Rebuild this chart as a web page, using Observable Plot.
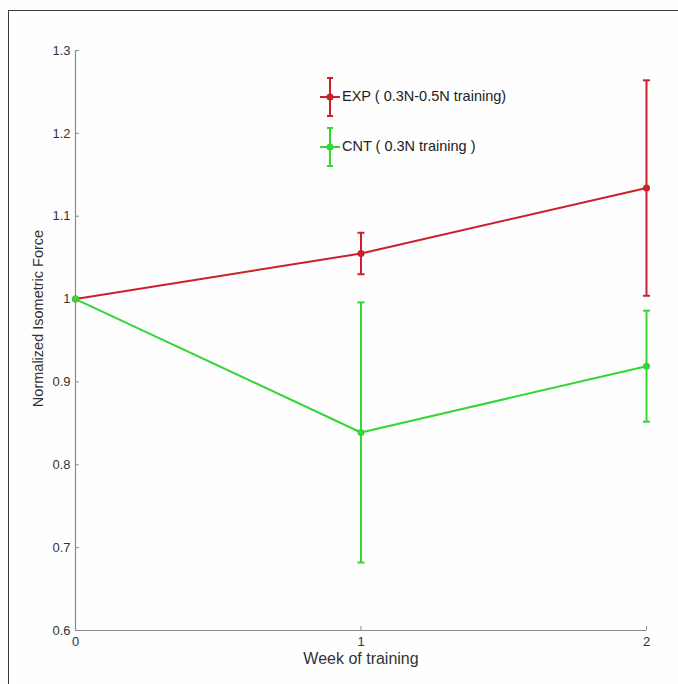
<!DOCTYPE html>
<html>
<head>
<meta charset="utf-8">
<script src="https://cdn.jsdelivr.net/npm/d3@7"></script>
<script src="https://cdn.jsdelivr.net/npm/@observablehq/plot@0.6"></script>
<style>
  html, body { margin: 0; padding: 0; background: #fefefe; }
  #wrap { position: relative; width: 678px; height: 684px; overflow: hidden; background: #fefefe; font-family: "Liberation Sans", Arial, Helvetica, sans-serif; }
  #frame { position: absolute; left: 8px; top: 10px; width: 700px; height: 700px; border: 1px solid #3a3a3a; box-sizing: border-box; pointer-events: none; }
  #legend { position: absolute; left: 318px; top: 72px; font-size: 14.5px; color: #222; }
  .item { position: relative; height: 50px; display: flex; align-items: center; }
  .item svg { flex: none; }
  .item span { margin-left: 0px; margin-top: -2px; }
</style>
</head>
<body>
<div id="wrap">
  <div id="chart"></div>
  <div id="legend"></div>
  <div id="frame"></div>
</div>
<script>
// Data
const weeks = [0, 1, 2];
const expMean = [1.0, 1.055, 1.134];
const expErr = [0, 0.025, 0.13];
const cntMean = [1.0, 0.839, 0.919];
const cntErr = [0, 0.157, 0.067];
const seriesNames = ["EXP ( 0.3N-0.5N training)", "CNT ( 0.3N training )"];
const seriesColors = ["#c9202a", "#34d634"];
const yTicks = [0.6, 0.7, 0.8, 0.9, 1.0, 1.1, 1.2, 1.3];
const xTicks = [0, 1, 2];
const xLabel = "Week of training";
const yLabel = "Normalized Isometric Force";

const rows = [];
weeks.forEach((w, i) => {
  rows.push({series: seriesNames[0], week: w, mean: expMean[i], err: expErr[i]});
});
weeks.forEach((w, i) => {
  rows.push({series: seriesNames[1], week: w, mean: cntMean[i], err: cntErr[i]});
});
const errRows = rows.filter(d => d.err > 0);

const capSymbol = {
  draw(context, size) {
    const r = Math.sqrt(size / Math.PI);
    context.moveTo(-r, 0);
    context.lineTo(r, 0);
  }
};

const colorScale = {domain: seriesNames, range: seriesColors};

const chart = Plot.plot({
  width: 678,
  height: 684,
  marginLeft: 75,
  marginRight: 32,
  marginTop: 50,
  marginBottom: 54,
  style: {fontFamily: '"Liberation Sans", Arial, Helvetica, sans-serif', fontSize: "13px", color: "#333", background: "transparent"},
  x: {domain: [0, 2], ticks: xTicks},
  y: {domain: [0.6, 1.3], ticks: yTicks},
  color: colorScale,
  marks: [
    Plot.ruleX([0], {stroke: "#8a8a8a", strokeWidth: 1.2}),
    Plot.ruleY([0.6], {stroke: "#8a8a8a", strokeWidth: 1.2}),
    Plot.axisY({ticks: yTicks, tickSize: -4, tickPadding: 9, stroke: "#8a8a8a",
      tickFormat: d => String(+d.toFixed(1)), fill: "#333", fontSize: 13, label: null}),
    Plot.axisX({ticks: xTicks, tickSize: -4, tickPadding: 10, stroke: "#8a8a8a",
      tickFormat: d => String(d), fill: "#333", fontSize: 13, label: null}),
    Plot.text([yLabel], {frameAnchor: "left", textAnchor: "middle", dx: -37, dy: -22, rotate: -90, fontSize: 14.5, fill: "#333"}),
    Plot.text([xLabel], {frameAnchor: "bottom", dy: 33, fontSize: 16, fill: "#333"}),
    Plot.line(rows, {x: "week", y: "mean", stroke: "series", z: "series", strokeWidth: 2}),
    Plot.ruleX(errRows, {x: "week", y1: d => d.mean - d.err, y2: d => d.mean + d.err, stroke: "series", strokeWidth: 2}),
    Plot.dot(errRows, {x: "week", y: d => d.mean + d.err, symbol: capSymbol, r: 3.5, stroke: "series", strokeWidth: 2}),
    Plot.dot(errRows, {x: "week", y: d => d.mean - d.err, symbol: capSymbol, r: 3.5, stroke: "series", strokeWidth: 2}),
    Plot.dot(rows, {x: "week", y: "mean", fill: "series", r: 3.5})
  ]
});
document.getElementById("chart").appendChild(chart);

// Legend (MATLAB-style, inside the axes)
const legend = document.getElementById("legend");
seriesNames.forEach((name, i) => {
  const c = seriesColors[i];
  const item = document.createElement("div");
  item.className = "item";
  item.innerHTML =
    `<svg width="24" height="44" viewBox="0 0 24 44">
       <line x1="2" y1="22" x2="22" y2="22" stroke="${c}" stroke-width="2"/>
       <line x1="12" y1="3" x2="12" y2="41" stroke="${c}" stroke-width="2"/>
       <line x1="9" y1="3" x2="15" y2="3" stroke="${c}" stroke-width="2"/>
       <line x1="9" y1="41" x2="15" y2="41" stroke="${c}" stroke-width="2"/>
       <circle cx="12" cy="22" r="3.5" fill="${c}"/>
     </svg><span>${name}</span>`;
  legend.appendChild(item);
});
</script>
</body>
</html>
